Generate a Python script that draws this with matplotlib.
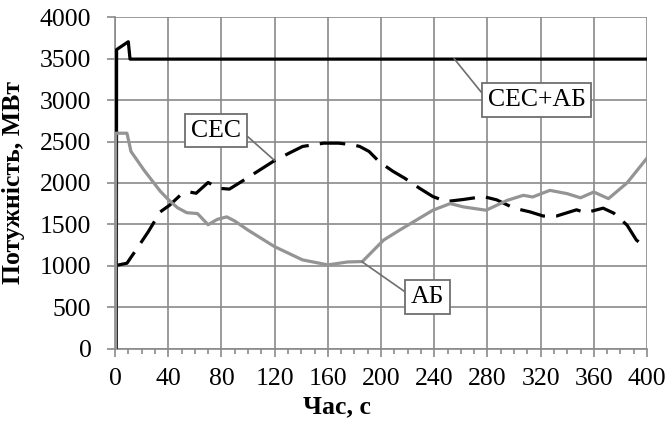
import numpy as np
import matplotlib
matplotlib.use("Agg")
import matplotlib.pyplot as plt
from matplotlib.ticker import MultipleLocator

plt.rcParams['font.family'] = ['Liberation Serif', 'DejaVu Serif']

# СЕС+АБ: total power
t_total = [1, 1.2, 10, 11.3, 400]
p_total = [0, 3610, 3705, 3495, 3495]

# АБ: battery
t_ab = [0.5, 0.5, 9, 12, 22, 34, 40, 47, 54, 62, 70, 77, 84, 90, 100, 120, 141, 160,
        175, 186, 202, 214, 239, 252, 262, 279, 295, 307, 314, 327, 340, 350, 360,
        371, 385, 400]
p_ab = [0, 2600, 2600, 2380, 2150, 1900, 1800, 1700, 1640, 1630, 1495, 1560, 1590,
        1540, 1430, 1230, 1070, 1010, 1045, 1050, 1310, 1430, 1670, 1750, 1710, 1670,
        1790, 1850, 1830, 1910, 1870, 1820, 1890, 1810, 2000, 2300]

# СЕС: solar plant
t_ses = [0, 9, 17.5, 25, 34, 41, 49, 56, 61, 70, 78, 86, 98, 119, 131, 141, 157, 168,
         179, 184, 191, 199, 209, 218, 229, 239, 249, 262, 277, 287, 300, 312, 322,
         332, 347, 354, 367, 375, 385, 392, 400]
p_ses = [1000, 1030, 1230, 1410, 1650, 1730, 1850, 1890, 1875, 2005, 1935, 1925, 2045,
         2260, 2360, 2440, 2480, 2480, 2460, 2440, 2380, 2250, 2140, 2055, 1935, 1835,
         1775, 1800, 1835, 1795, 1695, 1650, 1600, 1600, 1675, 1640, 1695, 1635, 1490,
         1310, 1210]

grid_col = '#8a8a8a'
fs = 18.5

fig = plt.figure(figsize=(6.67, 4.22), dpi=100)
ax = fig.add_axes([115 / 667, 1 - 348.5 / 422, 532 / 667, 331.2 / 422])

ax.plot(t_ses, p_ses, color='black', lw=2.3, dashes=(8, 3.5), zorder=3)
ax.plot(t_total, p_total, color='black', lw=2.3, zorder=3)
ax.plot(t_ab, p_ab, color='#949494', lw=2.3, zorder=4)

ax.set_xlim(0, 400)
ax.set_ylim(0, 4000)
ax.xaxis.set_major_locator(MultipleLocator(40))
ax.xaxis.set_minor_locator(MultipleLocator(10))
ax.yaxis.set_major_locator(MultipleLocator(500))
ax.grid(True, which='major', color=grid_col, lw=1.2)
ax.set_axisbelow(True)
for side in ('top', 'right'):
    ax.spines[side].set_visible(False)
for side in ('left', 'bottom'):
    ax.spines[side].set_color(grid_col)
    ax.spines[side].set_linewidth(1.2)
ax.tick_params(axis='both', which='major', direction='out', length=6, width=1.2,
               color=grid_col, labelsize=fs)
ax.tick_params(axis='x', which='major', pad=8)
ax.tick_params(axis='y', which='major', pad=11)
ax.tick_params(axis='x', which='minor', direction='out', length=3.5, width=1.2,
               color=grid_col)

ax.set_xlabel('Час, с', fontsize=fs, fontweight='bold')
ax.set_ylabel('Потужність, МВт', fontsize=fs, fontweight='bold')
ax.xaxis.set_label_coords(221.7 / 532, -0.14)
ax.yaxis.set_label_coords(-0.17, 0.5)

box = dict(boxstyle='square,pad=0.22', fc='white', ec='#6e6e6e', lw=1.3)
ax.annotate('СЕС', xy=(120, 2270), xytext=(76, 2630), fontsize=fs,
            ha='center', va='center', bbox=box, zorder=5,
            arrowprops=dict(arrowstyle='-', color='#6e6e6e', lw=1.2, relpos=(1, 0.5),
                            shrinkA=0, shrinkB=0))
ax.annotate('СЕС+АБ', xy=(255, 3500), xytext=(317, 3000), fontsize=fs,
            ha='center', va='center', bbox=box, zorder=5,
            arrowprops=dict(arrowstyle='-', color='#6e6e6e', lw=1.2, relpos=(0, 0.5),
                            shrinkA=0, shrinkB=0))
ax.annotate('АБ', xy=(185.5, 1050), xytext=(235, 622), fontsize=fs,
            ha='center', va='center', bbox=box, zorder=5,
            arrowprops=dict(arrowstyle='-', color='#6e6e6e', lw=1.2, relpos=(0, 0.55),
                            shrinkA=0, shrinkB=0))

fig.savefig('out.png', dpi=100)
